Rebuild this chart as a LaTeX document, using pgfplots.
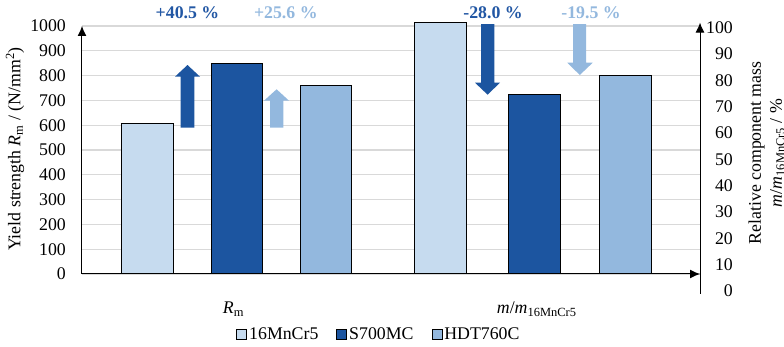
\documentclass[border=0pt]{standalone}
\usepackage{pgfplots}
\pgfplotsset{compat=1.18}
\usetikzlibrary{arrows.meta}
\usepackage{fontspec}
\setmainfont{Liberation Serif}
\definecolor{cA}{HTML}{C6DBEF}
\definecolor{cB}{HTML}{1C55A0}
\definecolor{cC}{HTML}{93B8DE}
\definecolor{tB}{HTML}{2257A4}
\definecolor{gridc}{HTML}{D9D9D9}
\tikzset{myarrow/.style={line width=1pt, -{Latex[length=10pt,width=9pt]}}}
\pgfplotsset{
  every non boxed x axis/.append style={x axis line style={myarrow}},
  every non boxed y axis/.append style={y axis line style={myarrow}},
}
\begin{document}
\fontsize{17.8}{21}\selectfont
\begin{tikzpicture}
% ---------- primary axis: yield strength ----------
\begin{axis}[
  at={(82pt,73pt)}, anchor=south west,
  scale only axis, width=618pt, height=248pt,
  xmin=82, xmax=700, ymin=0, ymax=1000,
  axis x line=bottom, axis y line=left,
  x axis line style={myarrow}, y axis line style={myarrow},
  ytick={0,100,...,1000},
  major tick length=0pt,
  ymajorgrids, grid style={gridc, line width=1.3pt},
  /pgf/number format/assume math mode=true,
  /pgf/number format/1000 sep={},
  yticklabel style={anchor=east, xshift=-10pt},
  xtick={233.5,536.7},
  xticklabels={{\textit{R}\textsubscript{m}},{\textit{m}/\textit{m}\textsubscript{16MnCr5}}},
  xticklabel style={anchor=base, yshift=-39.5pt},
  ylabel={Yield strength \textit{R}\textsubscript{m} / (N/mm\textsuperscript{2})},
  ylabel style={at={(axis description cs:-0.1084,0.504)}, anchor=center},
  clip=false,
  legend style={at={(0.4805,-0.246)}, anchor=center, legend columns=3, draw=none, fill=none,
    nodes={inner sep=2pt},
    /tikz/every even column/.append style={column sep=16pt}},
  legend image code/.code={\draw[#1, line width=0.8pt] (0pt,-4.5pt) rectangle (10pt,5.5pt);},
]
\addplot[ybar, bar shift=0pt, bar width=51.5pt, fill=cA, draw=black, line width=1pt] coordinates {(147.7,605)};
\addlegendentry{16MnCr5}
\addplot[ybar, bar shift=0pt, bar width=51.5pt, fill=cB, draw=black, line width=1pt] coordinates {(237.0,850)};
\addlegendentry{S700MC}
\addplot[ybar, bar shift=0pt, bar width=51.5pt, fill=cC, draw=black, line width=1pt] coordinates {(326.2,760)};
\addlegendentry{HDT760C}
% annotation arrows
\fill[cB] (axis cs:180.7,590) -- (axis cs:194.3,590) -- (axis cs:194.3,795.6) -- (axis cs:200,795.6)
  -- (axis cs:187.5,842.7) -- (axis cs:175,795.6) -- (axis cs:180.7,795.6) -- cycle;
\fill[cC] (axis cs:270,590) -- (axis cs:283.3,590) -- (axis cs:283.3,698.8) -- (axis cs:289,698.8)
  -- (axis cs:276.6,744.8) -- (axis cs:264,698.8) -- (axis cs:270,698.8) -- cycle;
\fill[cB] (axis cs:481,1008) -- (axis cs:494.3,1008) -- (axis cs:494.3,771.4) -- (axis cs:500,771.4)
  -- (axis cs:487.6,723) -- (axis cs:475,771.4) -- (axis cs:481,771.4) -- cycle;
\fill[cC] (axis cs:573,1008) -- (axis cs:586,1008) -- (axis cs:586,852) -- (axis cs:592.7,852)
  -- (axis cs:579.8,802.4) -- (axis cs:567.3,852) -- (axis cs:573,852) -- cycle;
\node[font=\bfseries, text=tB] at (axis cs:187.5,1053) {+40.5 \%};
\node[font=\bfseries, text=cC] at (axis cs:285.8,1053) {+25.6 \%};
\node[font=\bfseries, text=tB] at (axis cs:493,1053) {-28.0 \%};
\node[font=\bfseries, text=cC] at (axis cs:591,1053) {-19.5 \%};
\end{axis}
% ---------- mass bars (secondary data) ----------
\begin{axis}[
  at={(82pt,73pt)}, anchor=south west,
  scale only axis, width=618pt, height=248pt,
  xmin=82, xmax=700, ymin=0, ymax=100,
  hide axis, clip=false,
]
\addplot[ybar, bar shift=0pt, bar width=52pt, fill=cA, draw=black, line width=1pt] coordinates {(440.3,101.3)};
\addplot[ybar, bar shift=0pt, bar width=52pt, fill=cB, draw=black, line width=1pt] coordinates {(534.7,72.2)};
\addplot[ybar, bar shift=0pt, bar width=52pt, fill=cC, draw=black, line width=1pt] coordinates {(625.2,80.0)};
\end{axis}
% ---------- secondary axis: relative mass ----------
\begin{axis}[
  at={(82pt,53.4pt)}, anchor=south west,
  scale only axis, width=618pt, height=271pt,
  xmin=82, xmax=700, ymin=-1, ymax=102,
  axis y line*=right, axis x line=none,
  y axis line style={myarrow},
  ytick={0,10,...,100},
  major tick length=0pt,
  /pgf/number format/assume math mode=true,
  yticklabel style={anchor=east, xshift=39pt},
  ylabel={Relative component mass\\\textit{m}/\textit{m}\textsubscript{16MnCr5} / \%},
  ylabel style={at={(axis description cs:1.1078,0.519)}, anchor=center, align=center, rotate=0},
]
\addplot[draw=none] coordinates {(100,0)};
\end{axis}
\pgfresetboundingbox
\useasboundingbox (0,0) rectangle (784pt,347pt);
\end{tikzpicture}
\end{document}
